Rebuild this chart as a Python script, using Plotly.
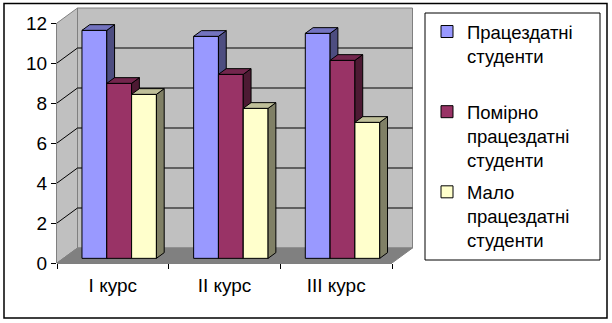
import plotly.graph_objects as go

# ---- data -------------------------------------------------------------
categories = ["I курс", "II курс", "III курс"]
series_names = [
    "Працездатні<br>студенти<br>\u00a0",
    "Помірно<br>працездатні<br>студенти",
    "Мало<br>працездатні<br>студенти",
]
able = [11.4, 11.1, 11.25]
moderate = [8.75, 9.2, 9.9]
low = [8.2, 7.5, 6.8]
y_ticks = [0, 2, 4, 6, 8, 10, 12]

# ---- styling ----------------------------------------------------------
FONT = "Arial, 'Liberation Sans', sans-serif"
front_colors = ["#9999FF", "#993366", "#FFFFCC"]
top_colors = ["#7373BF", "#73264D", "#BFBF99"]
side_colors = ["#4D4D80", "#4D1A33", "#808066"]
WALL = "#C0C0C0"
FLOOR = "#808080"
EDGE = "#808080"
TICK_FONT = 19
LEGEND_FONT = 18.5

# page / plot-area geometry (pixels)
WIDTH, HEIGHT = 612, 323
ML, MR, MT, MB = 57, 199, 7, 60
PW, PH = WIDTH - ML - MR, HEIGHT - MT - MB
PX_PER_CAT = 335 / 3          # front category width
PX_PER_UNIT = 20              # pixels per value unit

# oblique 3D projection: full depth of the box in data units
DX = 20.5 / PX_PER_CAT
DY = 15 / PX_PER_UNIT
X0 = -0.5
X_RANGE = [X0, X0 + PW / PX_PER_CAT]
Y_RANGE = [0, PH / PX_PER_UNIT]

# bar geometry: gap width 150%, bars centred in depth
BAR_W = 1 / 4.5
F0, F1 = 0.31, 0.69
SX, SY = F0 * DX, F0 * DY                 # shift of the bar front faces
BDX, BDY = (F1 - F0) * DX, (F1 - F0) * DY  # bar depth


def paper_x(px):
    return (px - ML) / PW


def paper_y(py):
    return (HEIGHT - MB - py) / PH


fig = go.Figure()
series = [able, moderate, low]
axes = [("x", "y"), ("x2", "y2"), ("x3", "y3")]

for j, (vals, name) in enumerate(zip(series, series_names)):
    xa, ya = axes[j]
    xs = [i + (j - 1) * BAR_W + SX for i in range(len(categories))]
    fig.add_trace(go.Bar(
        x=xs, y=vals, base=[SY] * len(vals), width=BAR_W,
        name=name, legendgroup=f"s{j}",
        marker=dict(color=front_colors[j], line=dict(color="black", width=1)),
        xaxis=xa, yaxis=ya, hoverinfo="skip",
    ))
    for xc, v in zip(xs, vals):
        xl, xr = xc - BAR_W / 2, xc + BAR_W / 2
        yb, yt = SY, SY + v
        # right side face
        fig.add_trace(go.Scatter(
            x=[xr, xr, xr + BDX, xr + BDX, xr],
            y=[yb, yt, yt + BDY, yb + BDY, yb],
            fill="toself", fillcolor=side_colors[j], mode="lines",
            line=dict(color="black", width=1), showlegend=False,
            hoverinfo="skip", xaxis=xa, yaxis=ya,
        ))
        # top face
        fig.add_trace(go.Scatter(
            x=[xl, xr, xr + BDX, xl + BDX, xl],
            y=[yt, yt, yt + BDY, yt + BDY, yt],
            fill="toself", fillcolor=top_colors[j], mode="lines",
            line=dict(color="black", width=1), showlegend=False,
            hoverinfo="skip", xaxis=xa, yaxis=ya,
        ))

# ---- walls, floor and gridlines ---------------------------------------
top = y_ticks[-1]
xb0, xb1 = X0 + DX, X0 + 3 + DX
shapes = []
# side wall
shapes.append(dict(type="path", xref="x", yref="y", layer="below",
                   path=f"M{X0},0 L{X0},{top} L{xb0},{top + DY} L{xb0},{DY} Z",
                   fillcolor=WALL, line=dict(width=0)))
# back wall
shapes.append(dict(type="rect", xref="x", yref="y", layer="below",
                   x0=xb0, x1=xb1, y0=DY, y1=top + DY,
                   fillcolor=WALL, line=dict(color=EDGE, width=1)))
# floor
shapes.append(dict(type="path", xref="x", yref="y", layer="below",
                   path=f"M{X0},0 L{X0 + 3},0 L{xb1},{DY} L{xb0},{DY} Z",
                   fillcolor=FLOOR, line=dict(color=EDGE, width=1)))
for v in y_ticks:
    col = "black" if 0 < v < top else EDGE
    shapes.append(dict(type="line", xref="x", yref="y", layer="below",
                       x0=X0, y0=v, x1=xb0, y1=v + DY,
                       line=dict(color=col, width=1)))
    if 0 < v < top:
        shapes.append(dict(type="line", xref="x", yref="y", layer="below",
                           x0=xb0, y0=v + DY, x1=xb1, y1=v + DY,
                           line=dict(color="black", width=1)))
# front axis lines
shapes.append(dict(type="line", xref="paper", yref="y", layer="below",
                   x0=0, x1=0, y0=0, y1=top, line=dict(color="black", width=1)))
shapes.append(dict(type="line", xref="x", yref="paper", layer="below",
                   x0=X0, x1=X0 + 3, y0=0, y1=0, line=dict(color="black", width=1)))
# legend frame
shapes.append(dict(type="rect", xref="paper", yref="paper", layer="below",
                   x0=paper_x(425), x1=paper_x(600), y0=paper_y(260), y1=paper_y(13),
                   line=dict(color="black", width=1), fillcolor="white"))
# chart border
shapes.append(dict(type="rect", xref="paper", yref="paper", layer="above",
                   x0=paper_x(4), x1=paper_x(607), y0=paper_y(318), y1=paper_y(3.5),
                   line=dict(color="black", width=1.5), fillcolor="rgba(0,0,0,0)"))

fig.update_layout(
    width=WIDTH, height=HEIGHT,
    margin=dict(l=ML, r=MR, t=MT, b=MB, autoexpand=False),
    paper_bgcolor="white", plot_bgcolor="rgba(0,0,0,0)",
    font=dict(family=FONT, size=TICK_FONT, color="black"),
    barmode="overlay",
    shapes=shapes,
    showlegend=True,
    legend=dict(
        x=paper_x(427), y=paper_y(13), xanchor="left", yanchor="top",
        borderwidth=0, bgcolor="rgba(0,0,0,0)",
        font=dict(family=FONT, size=LEGEND_FONT, color="black"),
        valign="top", tracegroupgap=5, itemclick=False, itemdoubleclick=False,
    ),
    xaxis=dict(range=X_RANGE, tickmode="array",
               tickvals=[X0 + k for k in range(len(categories) + 1)],
               showticklabels=False, ticks="outside", ticklen=5,
               tickcolor="black", showgrid=False, zeroline=False,
               showline=False, fixedrange=True),
    yaxis=dict(range=Y_RANGE, tickmode="array", tickvals=y_ticks,
               ticks="outside", ticklen=5, tickcolor="black",
               showgrid=False, zeroline=False, showline=False,
               tickfont=dict(size=TICK_FONT), fixedrange=True),
    xaxis2=dict(range=X_RANGE, overlaying="x", anchor="y2", tickmode="array",
                tickvals=list(range(len(categories))), ticktext=categories,
                ticks="", ticklabelstandoff=9, showgrid=False,
                zeroline=False, showline=False, tickfont=dict(size=TICK_FONT),
                fixedrange=True),
    yaxis2=dict(range=Y_RANGE, overlaying="y", visible=False, fixedrange=True),
    xaxis3=dict(range=X_RANGE, overlaying="x", anchor="y3", visible=False,
                fixedrange=True),
    yaxis3=dict(range=Y_RANGE, overlaying="y", visible=False, fixedrange=True),
)

fig.write_html("out.html")
